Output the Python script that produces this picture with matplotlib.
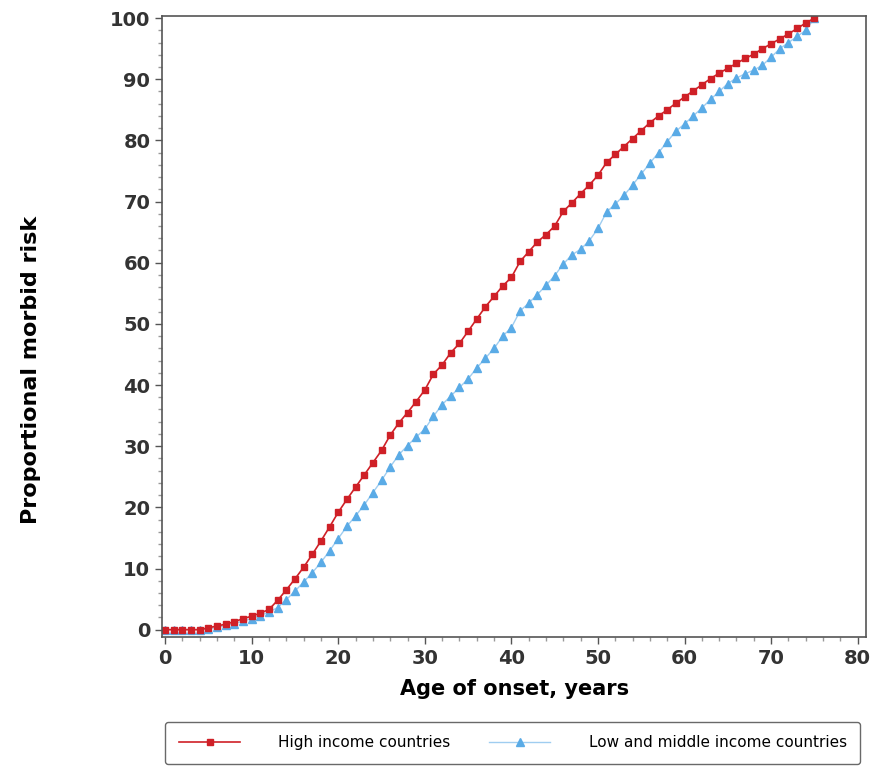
import numpy as np
import matplotlib.pyplot as plt

# Age of onset, years
age = np.arange(0, 76)

# Proportional morbid risk, high income countries
high_income = [
    0, 0, 0, 0, 0, 0.3, 0.6, 0.9, 1.3, 1.8,
    2.2, 2.7, 3.3, 4.8, 6.5, 8.3, 10.2, 12.3, 14.5, 16.8,
    19.2, 21.3, 23.3, 25.3, 27.3, 29.3, 31.8, 33.8, 35.5, 37.3,
    39.2, 41.8, 43.3, 45.3, 46.8, 48.8, 50.8, 52.8, 54.5, 56.2,
    57.6, 60.2, 61.8, 63.4, 64.6, 66.0, 68.4, 69.8, 71.3, 72.7,
    74.3, 76.4, 77.7, 79.0, 80.3, 81.6, 82.9, 84.0, 85.0, 86.1,
    87.1, 88.1, 89.1, 90.1, 91.0, 91.8, 92.6, 93.4, 94.1, 95.0,
    95.8, 96.6, 97.4, 98.3, 99.2, 100,
]

# Proportional morbid risk, low and middle income countries
low_middle_income = [
    0, 0, 0, 0, 0, 0.1, 0.4, 0.7, 1.0, 1.4,
    1.8, 2.3, 2.9, 3.6, 4.9, 6.3, 7.8, 9.3, 11.0, 12.9,
    14.9, 16.9, 18.6, 20.4, 22.4, 24.4, 26.6, 28.6, 30.1, 31.5,
    32.8, 34.9, 36.8, 38.2, 39.6, 41.0, 42.8, 44.4, 46.0, 48.0,
    49.4, 52.1, 53.4, 54.8, 56.3, 57.9, 59.8, 61.3, 62.2, 63.6,
    65.6, 68.3, 69.6, 71.0, 72.7, 74.5, 76.3, 78.0, 79.8, 81.5,
    82.7, 84.0, 85.3, 86.7, 88.0, 89.3, 90.2, 90.9, 91.5, 92.3,
    93.6, 95.0, 96.0, 97.0, 98.0, 100,
]

red = '#cf2027'
blue = '#5aabe6'
grey = '#555555'

fig = plt.figure(figsize=(8.76, 7.74), dpi=100)
ax = fig.add_axes([0.185, 0.177, 0.804, 0.802])

ax.plot(age, low_middle_income, color='#9fcdf0', linewidth=1.0, marker='^',
        markersize=6, markerfacecolor=blue, markeredgecolor=blue,
        label='Low and middle income countries')
ax.plot(age, high_income, color=red, linewidth=1.2, marker='s',
        markersize=4.5, markerfacecolor=red, markeredgecolor=red,
        label='High income countries')

ax.set_xlim(-0.35, 81)
ax.set_ylim(-1.2, 100.3)
ax.set_xticks(np.arange(0, 81, 10))
ax.set_yticks(np.arange(0, 101, 10))
ax.set_xticks(np.arange(0, 81, 2), minor=True)
ax.set_yticks(np.arange(0, 101, 2), minor=True)

for s in ax.spines.values():
    s.set_color(grey)
    s.set_linewidth(1.2)
ax.tick_params(axis='both', which='major', length=5, width=1, color=grey,
               labelsize=14, labelcolor='#333333')
ax.tick_params(axis='both', which='minor', length=3, width=1, color='#999999')
for lbl in ax.get_xticklabels() + ax.get_yticklabels():
    lbl.set_fontweight('bold')

ax.set_xlabel('Age of onset, years', fontsize=15, fontweight='bold', labelpad=8)
fig.text(0.035, 0.522, 'Proportional morbid risk', rotation=90, fontsize=16,
         fontweight='bold', ha='center', va='center')

handles, labels = ax.get_legend_handles_labels()
leg = fig.legend(handles[::-1], labels[::-1], loc='lower left',
                 bbox_to_anchor=(0.18, 0.003, 0.811, 0.057), mode='expand',
                 ncol=2, fontsize=11, frameon=True, fancybox=True,
                 handlelength=4, handletextpad=2.5, borderpad=0.9)
leg.get_frame().set_edgecolor('#444444')
leg.get_frame().set_linewidth(1.0)

fig.savefig('out.png', dpi=100)
